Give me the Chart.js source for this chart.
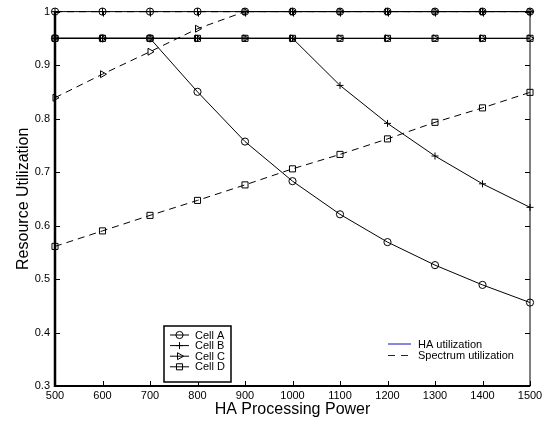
<!DOCTYPE html>
<html>
<head>
<meta charset="utf-8">
<script src="https://cdn.jsdelivr.net/npm/chart.js@4.4.0/dist/chart.umd.min.js"></script>
<style>
  html, body { margin: 0; padding: 0; background: #fff; }
  #wrap { width: 560px; height: 421px; }
</style>
</head>
<body>
<div id="wrap"><canvas id="chart" width="560" height="421"></canvas></div>
<script>
// HA processing power (x) and utilization values
const power = [500, 600, 700, 800, 900, 1000, 1100, 1200, 1300, 1400, 1500];

const cellA_HA   = [0.95, 0.95, 0.95, 0.85, 0.757, 0.683, 0.621, 0.569, 0.526, 0.489, 0.456];
const cellA_Spec = [1, 1, 1, 1, 1, 1, 1, 1, 1, 1, 1];
const cellB_HA   = [0.95, 0.95, 0.95, 0.95, 0.95, 0.95, 0.862, 0.791, 0.730, 0.678, 0.634];
const cellB_Spec = [1, 1, 1, 1, 1, 1, 1, 1, 1, 1, 1];
const cellC_HA   = [0.95, 0.95, 0.95, 0.95, 0.95, 0.95, 0.95, 0.95, 0.95, 0.95, 0.95];
const cellC_Spec = [0.839, 0.883, 0.925, 0.968, 1, 1, 1, 1, 1, 1, 1];
const cellD_HA   = [0.95, 0.95, 0.95, 0.95, 0.95, 0.95, 0.95, 0.95, 0.95, 0.95, 0.95];
const cellD_Spec = [0.561, 0.590, 0.619, 0.647, 0.676, 0.706, 0.733, 0.762, 0.793, 0.820, 0.849];

const cellNames = ['Cell A', 'Cell B', 'Cell C', 'Cell D'];
const typeNames = ['HA utilization', 'Spectrum utilization'];

const xTicks = [500, 600, 700, 800, 900, 1000, 1100, 1200, 1300, 1400, 1500];
const yTicks = [0.3, 0.4, 0.5, 0.6, 0.7, 0.8, 0.9, 1];

const FONT = '"Liberation Sans", Arial, Helvetica, sans-serif';
const DASH = [7, 5];

const markers = [
    { style: 'circle', radius: 3.6, rotation: 0 },
    { style: 'cross', radius: 3.5, rotation: 0 },
    { style: 'triangle', radius: 4, rotation: 90 },
    { style: 'rect', radius: 4.3, rotation: 0 }
];

function series(values, m, dashed) {
    return {
        data: power.map((p, i) => ({ x: p, y: values[i] })),
        borderColor: '#000',
        borderWidth: 1,
        borderDash: dashed ? DASH : [],
        pointStyle: m.style,
        pointRadius: m.radius,
        pointRotation: m.rotation,
        pointBorderColor: '#000',
        pointBackgroundColor: 'rgba(0,0,0,0)',
        pointBorderWidth: 1,
        fill: false,
        tension: 0,
        clip: false
    };
}

const datasets = [
    series(cellA_HA, markers[0], false),
    series(cellA_Spec, markers[0], true),
    series(cellB_HA, markers[1], false),
    series(cellB_Spec, markers[1], true),
    series(cellC_HA, markers[2], false),
    series(cellC_Spec, markers[2], true),
    series(cellD_HA, markers[3], false),
    series(cellD_Spec, markers[3], true)
];

function drawMarker(ctx, m, x, y) {
    if (Chart.helpers && Chart.helpers.drawPoint) {
        ctx.fillStyle = 'rgba(0,0,0,0)';
        ctx.strokeStyle = '#000';
        ctx.lineWidth = 1;
        Chart.helpers.drawPoint(ctx, {
            pointStyle: m.style, radius: m.radius, rotation: m.rotation, borderWidth: 1
        }, x, y);
    }
}

// box, inward ticks and the two legends (MATLAB look)
const framePlugin = {
    id: 'frame',
    afterDraw(chart) {
        const ctx = chart.ctx;
        const a = chart.chartArea;
        const xs = chart.scales.x, ys = chart.scales.y;
        ctx.save();
        ctx.strokeStyle = '#000';
        ctx.lineWidth = 1;
        ctx.strokeRect(a.left, a.top, a.right - a.left, a.bottom - a.top);
        ctx.lineWidth = 2.5;
        ctx.beginPath();
        ctx.moveTo(a.left, a.top); ctx.lineTo(a.left, a.bottom + 1);
        ctx.stroke();
        ctx.lineWidth = 2;
        ctx.beginPath();
        ctx.moveTo(a.left, a.bottom); ctx.lineTo(a.right, a.bottom);
        ctx.stroke();

        ctx.lineWidth = 1;
        ctx.beginPath();
        xTicks.forEach(v => {
            const px = Math.round(xs.getPixelForValue(v)) + 0.5;
            ctx.moveTo(px, a.bottom); ctx.lineTo(px, a.bottom - 5);
            ctx.moveTo(px, a.top); ctx.lineTo(px, a.top + 5);
        });
        yTicks.forEach(v => {
            const py = Math.round(ys.getPixelForValue(v)) + 0.5;
            ctx.moveTo(a.left, py); ctx.lineTo(a.left + 5, py);
            ctx.moveTo(a.right, py); ctx.lineTo(a.right - 5, py);
        });
        ctx.stroke();

        // legend of cells
        ctx.fillStyle = '#fff';
        ctx.fillRect(164, 326, 67, 56);
        ctx.lineWidth = 1.5;
        ctx.strokeRect(164, 326, 67, 56);
        ctx.font = '11px ' + FONT;
        ctx.textBaseline = 'middle';
        ctx.textAlign = 'left';
        cellNames.forEach((name, i) => {
            const y = 335 + i * 10.6;
            ctx.strokeStyle = '#000';
            ctx.lineWidth = 1;
            ctx.beginPath();
            ctx.moveTo(170, y); ctx.lineTo(189, y);
            ctx.stroke();
            drawMarker(ctx, markers[i], 179.5, y);
            ctx.fillStyle = '#000';
            ctx.fillText(name, 195, y + 0.5);
        });

        // legend of utilization types
        typeNames.forEach((name, i) => {
            const y = 344 + i * 11.5;
            ctx.strokeStyle = '#1010c8';
            ctx.lineWidth = 1;
            ctx.setLineDash(i === 1 ? [7, 6] : []);
            ctx.beginPath();
            ctx.moveTo(388, y); ctx.lineTo(411, y);
            ctx.stroke();
            ctx.setLineDash([]);
            ctx.fillStyle = '#000';
            ctx.fillText(name, 418, y + 0.5);
        });
        ctx.restore();
    }
};

const chart = new Chart(document.getElementById('chart').getContext('2d'), {
    type: 'line',
    data: { datasets: datasets },
    plugins: [framePlugin],
    options: {
        responsive: false,
        animation: false,
        devicePixelRatio: 1,
        layout: { padding: { top: 8, right: 30, left: 0, bottom: 0 } },
        plugins: { legend: { display: false }, tooltip: { enabled: false } },
        scales: {
            x: {
                type: 'linear',
                min: 500,
                max: 1500,
                afterBuildTicks: s => { s.ticks = xTicks.map(v => ({ value: v })); },
                afterFit: s => { s.height = 35; },
                grid: { display: false, drawTicks: false },
                border: { display: false },
                ticks: { color: '#000', font: { family: FONT, size: 11 }, padding: 3, maxRotation: 0,
                         callback: v => String(v) },
                title: { display: true, text: 'HA Processing Power', color: '#000',
                         font: { family: FONT, size: 16 }, padding: { top: 0, bottom: 2 } }
            },
            y: {
                min: 0.3,
                max: 1,
                afterBuildTicks: s => { s.ticks = yTicks.map(v => ({ value: v })); },
                afterFit: s => { s.width = 55; },
                grid: { display: false, drawTicks: false },
                border: { display: false },
                ticks: { color: '#000', font: { family: FONT, size: 11 }, padding: 5,
                         callback: v => (v === 1 ? '1' : v.toFixed(1)) },
                title: { display: true, text: 'Resource Utilization', color: '#000',
                         font: { family: FONT, size: 16 }, padding: { top: 14, bottom: 0 } }
            }
        }
    }
});
</script>
</body>
</html>
